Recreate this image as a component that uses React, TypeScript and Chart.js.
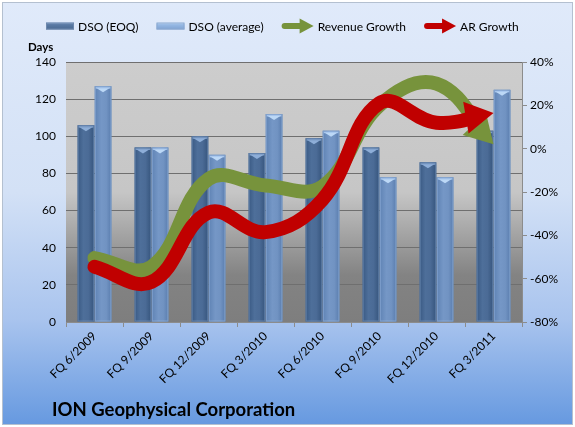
import React, { useEffect, useRef } from "react";
import { Chart, registerables } from "chart.js";

Chart.register(...registerables);

const categories = [
  "FQ 6/2009",
  "FQ 9/2009",
  "FQ 12/2009",
  "FQ 3/2010",
  "FQ 6/2010",
  "FQ 9/2010",
  "FQ 12/2010",
  "FQ 3/2011",
];
const dsoEOQ = [106, 94, 100, 91, 99, 94, 86, 103];
const dsoAverage = [127, 94, 90, 112, 103, 78, 78, 125];
const revenueGrowth = [-50.5, -54.5, -14, -17, -17.5, 20, 30, 2];
const arGrowth = [-54.5, -61.5, -29.5, -38.5, -23.5, 21, 12, 16.5];
const seriesLabels = ["DSO (EOQ)", "DSO (average)", "Revenue Growth", "AR Growth"];
const chartTitle = "ION Geophysical Corporation";
const leftAxisTitle = "Days";

const FONT = "Lato, 'Open Sans', sans-serif";
const GREEN = "#77933c";
const RED = "#c00000";
const EOQ_BLUE = "#4a6a93";
const AVG_BLUE = "#6c8fbf";

const backgroundPlugin = {
  id: "bgPlugin",
  beforeDraw(chart: any) {
    const { ctx, width, height, chartArea } = chart;
    ctx.save();
    ctx.fillStyle = "#ffffff";
    ctx.fillRect(0, 0, width, height);
    const g = ctx.createLinearGradient(0, 2, 0, height - 2);
    g.addColorStop(0, "#e0eafa");
    g.addColorStop(0.45, "#d3e1f6");
    g.addColorStop(0.75, "#a9c4ee");
    g.addColorStop(1, "#6699e0");
    ctx.fillStyle = g;
    ctx.fillRect(2, 2, width - 4, height - 4);
    ctx.strokeStyle = "#b4c0d0";
    ctx.lineWidth = 1;
    ctx.strokeRect(2.5, 2.5, width - 5, height - 5);
    const { left, top, right, bottom } = chartArea;
    const pg = ctx.createLinearGradient(0, top, 0, bottom);
    pg.addColorStop(0, "#cdcdcd");
    pg.addColorStop(0.5, "#c6c6c6");
    pg.addColorStop(0.82, "#838383");
    pg.addColorStop(1, "#7e7e7e");
    ctx.fillStyle = pg;
    ctx.fillRect(left, top, right - left, bottom - top);
    ctx.restore();
  },
};

const barShadePlugin = {
  id: "barShade",
  afterDatasetDraw(chart: any, args: any) {
    const meta = args.meta;
    if (meta.type !== "bar") return;
    const ctx = chart.ctx;
    const isEOQ = args.index === 0;
    ctx.save();
    meta.data.forEach((el: any) => {
      const { x, y, base, width } = el.getProps(["x", "y", "base", "width"], true);
      const l = x - width / 2;
      const r = x + width / 2;
      const g = ctx.createLinearGradient(l, 0, r, 0);
      if (isEOQ) {
        g.addColorStop(0, "#3a5a84");
        g.addColorStop(0.35, "#4e6f9a");
        g.addColorStop(0.65, "#4b6b96");
        g.addColorStop(1, "#36557d");
      } else {
        g.addColorStop(0, "#5f83b4");
        g.addColorStop(0.4, "#7597c6");
        g.addColorStop(0.7, "#7193c2");
        g.addColorStop(1, "#5a7dae");
      }
      ctx.fillStyle = g;
      ctx.fillRect(l, y, width, base - y);
      ctx.strokeStyle = isEOQ ? "rgba(120,150,190,0.6)" : "rgba(150,180,220,0.6)";
      ctx.lineWidth = 1;
      ctx.strokeRect(l + 0.5, y + 0.5, width - 1, base - y - 1);
      ctx.fillStyle = isEOQ ? "#7f9fca" : "#a5c4ec";
      ctx.fillRect(l + 1, y + 1, width - 2, 1.5);
      ctx.fillStyle = isEOQ ? "#8eaed8" : "#bcd8f6";
      ctx.beginPath();
      ctx.moveTo(l + 2, y + 2);
      ctx.lineTo(r - 2, y + 2);
      ctx.lineTo(x, y + 6);
      ctx.closePath();
      ctx.fill();
    });
    ctx.restore();
  },
};

const HEAD_LEN = 28;
const HEAD_HALF = 16;

function arrowGeometry(meta: any) {
  const pts = meta.data;
  const n = pts.length;
  const tip = { x: pts[n - 1].x, y: pts[n - 1].y };
  const prev = { x: pts[n - 2].x, y: pts[n - 2].y };
  let dx = tip.x - prev.x;
  let dy = tip.y - prev.y;
  const len = Math.hypot(dx, dy) || 1;
  dx /= len;
  dy /= len;
  return { tip, dx, dy, nx: -dy, ny: dx };
}

const arrowPlugin = {
  id: "arrowHeads",
  beforeDatasetDraw(chart: any, args: any) {
    const meta = args.meta;
    if (meta.type !== "line") return;
    const ctx = chart.ctx;
    const { tip, dx, dy, nx, ny } = arrowGeometry(meta);
    const bx = tip.x - dx * (HEAD_LEN - 2);
    const by = tip.y - dy * (HEAD_LEN - 2);
    const B = 3000;
    ctx.save();
    ctx.beginPath();
    ctx.moveTo(bx + nx * B, by + ny * B);
    ctx.lineTo(bx + nx * B - dx * B, by + ny * B - dy * B);
    ctx.lineTo(bx - nx * B - dx * B, by - ny * B - dy * B);
    ctx.lineTo(bx - nx * B, by - ny * B);
    ctx.closePath();
    ctx.clip();
  },
  afterDatasetDraw(chart: any, args: any) {
    const meta = args.meta;
    if (meta.type !== "line") return;
    const ctx = chart.ctx;
    ctx.restore();
    const { tip, dx, dy, nx, ny } = arrowGeometry(meta);
    const bx = tip.x - dx * HEAD_LEN;
    const by = tip.y - dy * HEAD_LEN;
    ctx.save();
    ctx.fillStyle = chart.data.datasets[args.index].borderColor;
    ctx.beginPath();
    ctx.moveTo(tip.x, tip.y);
    ctx.lineTo(bx + nx * HEAD_HALF, by + ny * HEAD_HALF);
    ctx.lineTo(bx - nx * HEAD_HALF, by - ny * HEAD_HALF);
    ctx.closePath();
    ctx.fill();
    ctx.restore();
  },
};

function drawLegendIcon(ctx: CanvasRenderingContext2D, kind: number, x: number, cy: number) {
  if (kind < 2) {
    const w = 28;
    const h = 7;
    const g = ctx.createLinearGradient(0, cy - h / 2, 0, cy + h / 2);
    if (kind === 0) {
      g.addColorStop(0, "#9ab4d8");
      g.addColorStop(0.3, "#5a7aa4");
      g.addColorStop(1, "#4a6991");
    } else {
      g.addColorStop(0, "#d6e8fb");
      g.addColorStop(0.3, "#97b9e4");
      g.addColorStop(1, "#7ea2d2");
    }
    ctx.fillStyle = g;
    ctx.fillRect(x, cy - h / 2, w, h);
    ctx.strokeStyle = kind === 0 ? "#6d88ad" : "#8aa8d0";
    ctx.lineWidth = 1;
    ctx.strokeRect(x + 0.5, cy - h / 2 + 0.5, w - 1, h - 1);
  } else {
    const color = kind === 2 ? GREEN : RED;
    ctx.fillStyle = color;
    ctx.strokeStyle = color;
    ctx.lineWidth = 6;
    ctx.lineCap = "round";
    ctx.beginPath();
    ctx.moveTo(x + 3, cy);
    ctx.lineTo(x + 20, cy);
    ctx.stroke();
    ctx.beginPath();
    ctx.moveTo(x + 32, cy);
    ctx.lineTo(x + 18, cy - 7.5);
    ctx.lineTo(x + 18, cy + 7.5);
    ctx.closePath();
    ctx.fill();
  }
}

const textPlugin = {
  id: "texts",
  afterDraw(chart: any) {
    const ctx = chart.ctx;
    ctx.save();
    ctx.font = `12px ${FONT}`;
    ctx.textBaseline = "middle";
    ctx.fillStyle = "#000";
    let x = 46;
    const cy = 26;
    seriesLabels.forEach((label, i) => {
      const iconW = i < 2 ? 28 : 32;
      drawLegendIcon(ctx, i, x, cy);
      x += iconW + 4;
      ctx.fillStyle = "#000";
      ctx.font = `12px ${FONT}`;
      ctx.fillText(label, x, cy + 1);
      x += ctx.measureText(label).width + 18;
    });
    ctx.font = `bold 11.5px ${FONT}`;
    ctx.textBaseline = "alphabetic";
    ctx.textAlign = "left";
    ctx.fillText(leftAxisTitle, 28, 51);
    ctx.font = `bold 18.5px ${FONT}`;
    ctx.fillText(chartTitle, 52, 416);
    ctx.restore();
  },
};

export default function App() {
  const canvasRef = useRef<HTMLCanvasElement | null>(null);

  useEffect(() => {
    const canvas = canvasRef.current;
    if (!canvas) return;
    const tickFont = { family: FONT, size: 12 };
    const lineCommon = {
      type: "line",
      borderWidth: 14,
      pointRadius: 0,
      tension: 0.4,
      borderCapStyle: "round",
      borderJoinStyle: "round",
      fill: false,
      yAxisID: "y1",
    };
    const chart = new Chart(canvas, {
      type: "bar",
      data: {
        labels: categories,
        datasets: [
          {
            type: "bar",
            label: seriesLabels[0],
            data: dsoEOQ,
            backgroundColor: EOQ_BLUE,
            yAxisID: "y",
            order: 2,
            categoryPercentage: 0.6,
            barPercentage: 0.97,
          },
          {
            type: "bar",
            label: seriesLabels[1],
            data: dsoAverage,
            backgroundColor: AVG_BLUE,
            yAxisID: "y",
            order: 2,
            categoryPercentage: 0.6,
            barPercentage: 0.97,
          },
          {
            ...lineCommon,
            label: seriesLabels[2],
            data: revenueGrowth,
            borderColor: GREEN,
            backgroundColor: GREEN,
            order: 1,
          },
          {
            ...lineCommon,
            label: seriesLabels[3],
            data: arGrowth,
            borderColor: RED,
            backgroundColor: RED,
            order: 0,
          },
        ] as any,
      },
      options: {
        responsive: false,
        maintainAspectRatio: false,
        animation: false,
        events: [],
        layout: { padding: { top: 62, left: 0, right: 0, bottom: 0 } },
        plugins: {
          legend: { display: false },
          title: { display: false },
          tooltip: { enabled: false },
        },
        scales: {
          x: {
            offset: true,
            grid: {
              display: true,
              drawOnChartArea: false,
              drawTicks: true,
              tickLength: 5,
              offset: true,
              color: "#8c8c8c",
            },
            border: { display: true, color: "#8c8c8c" },
            ticks: {
              autoSkip: false,
              maxRotation: 45,
              minRotation: 45,
              font: tickFont,
              color: "#000",
              padding: 2,
            },
            afterFit: (s: any) => {
              s.height = 105;
            },
          },
          y: {
            position: "left",
            min: 0,
            max: 140,
            ticks: { stepSize: 20, font: tickFont, color: "#000", padding: 10 },
            grid: { color: "#6f6f6f", drawTicks: false },
            border: { display: false },
            afterFit: (s: any) => {
              s.width = 66;
            },
          },
          y1: {
            position: "right",
            min: -80,
            max: 40,
            ticks: {
              stepSize: 20,
              font: tickFont,
              color: "#000",
              padding: 3,
              callback: (v: any) => `${v}%`,
            },
            grid: { drawOnChartArea: false, tickLength: 5, color: "#8c8c8c" },
            border: { display: true, color: "#8c8c8c" },
            afterFit: (s: any) => {
              s.width = 53;
            },
          },
        },
      } as any,
      plugins: [backgroundPlugin, barShadePlugin, arrowPlugin, textPlugin],
    });
    return () => chart.destroy();
  }, []);

  return (
    <div style={{ position: "absolute", left: 0, top: 0, width: 575, height: 427 }}>
      <canvas ref={canvasRef} width={575} height={427} style={{ display: "block" }} />
    </div>
  );
}
